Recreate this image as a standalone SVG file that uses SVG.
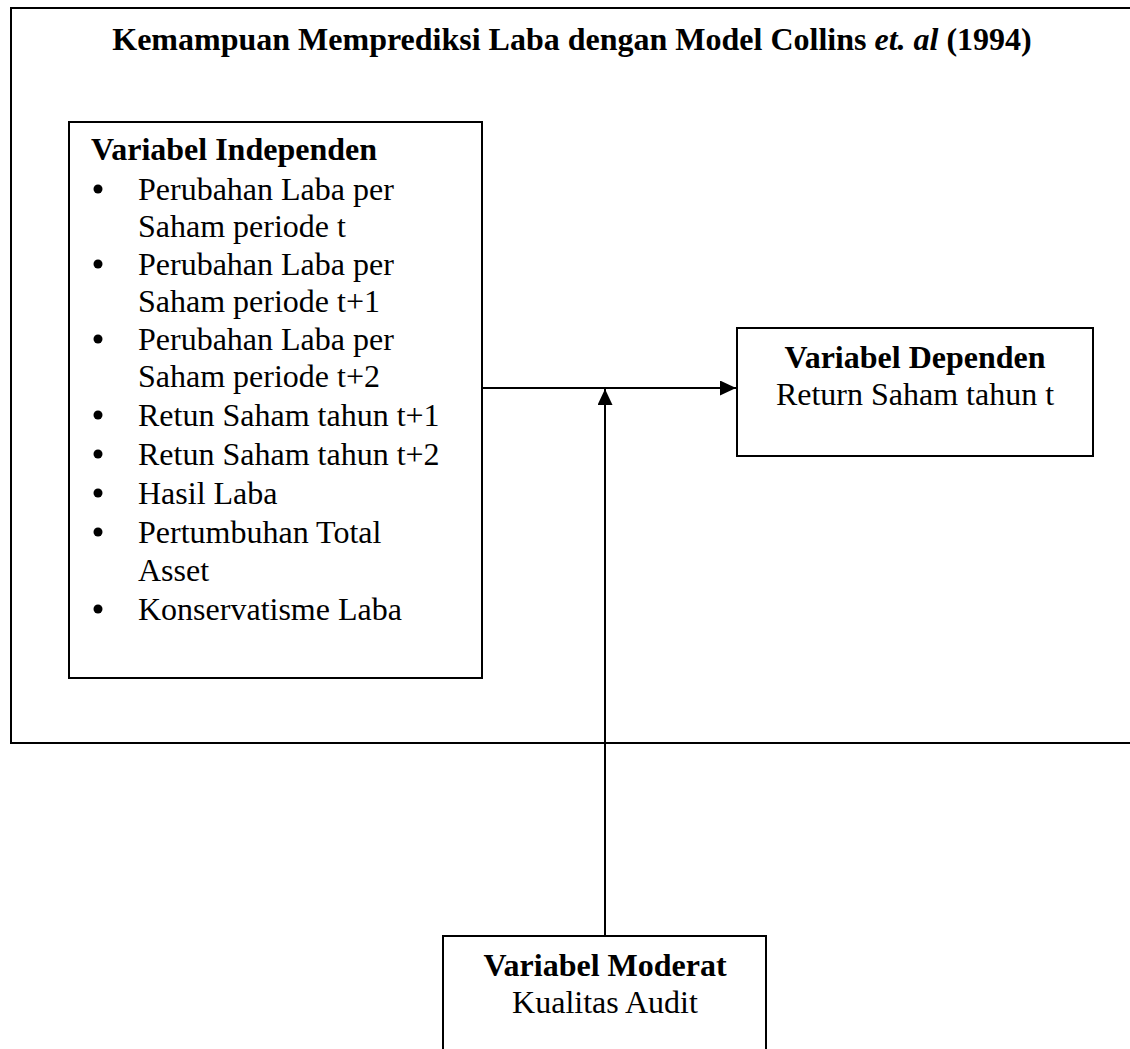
<svg xmlns="http://www.w3.org/2000/svg" width="1130" height="1049" viewBox="0 0 1130 1049">
<style>
.box{fill:none;stroke:#000;stroke-width:2}
.ln{fill:none;stroke:#000;stroke-width:2}
text{font-family:"Liberation Serif","Times New Roman",serif;font-size:32px;fill:#000}
.b{font-weight:bold}
.c{text-anchor:middle}
</style>
<defs>
<marker id="ah" markerWidth="16" markerHeight="15" refX="16" refY="7.5" orient="auto" markerUnits="userSpaceOnUse" viewBox="0 0 16 15">
<path d="M0,0 L16,7.5 L0,15 Z" fill="#000"/>
</marker>
</defs>
<rect width="1130" height="1049" fill="#fff"/>
<g id="outer">
<rect class="box" x="11" y="8" width="1125" height="735"/>
<text class="b c" x="572" y="50">Kemampuan Memprediksi Laba dengan Model Collins <tspan font-style="italic">et. al</tspan> (1994)</text>
</g>
<g id="independen">
<rect class="box" x="69" y="122" width="413" height="556"/>
<text class="b" x="91" y="160">Variabel Independen</text>
<g>
<circle cx="98" cy="189" r="4.5"/>
<circle cx="98" cy="264" r="4.5"/>
<circle cx="98" cy="339" r="4.5"/>
<circle cx="98" cy="415" r="4.5"/>
<circle cx="98" cy="454" r="4.5"/>
<circle cx="98" cy="493" r="4.5"/>
<circle cx="98" cy="532" r="4.5"/>
<circle cx="98" cy="609" r="4.5"/>
</g>
<text x="138" y="200">Perubahan Laba per</text>
<text x="138" y="237">Saham periode t</text>
<text x="138" y="275">Perubahan Laba per</text>
<text x="138" y="312">Saham periode t+1</text>
<text x="138" y="350">Perubahan Laba per</text>
<text x="138" y="387">Saham periode t+2</text>
<text x="138" y="426">Retun Saham tahun t+1</text>
<text x="138" y="465">Retun Saham tahun t+2</text>
<text x="138" y="504">Hasil Laba</text>
<text x="138" y="543">Pertumbuhan Total</text>
<text x="138" y="581">Asset</text>
<text x="138" y="620">Konservatisme Laba</text>
</g>
<g id="dependen">
<rect class="box" x="737" y="328" width="356" height="128"/>
<text class="b c" x="915" y="368">Variabel Dependen</text>
<text class="c" x="915" y="405">Return Saham tahun t</text>
</g>
<g id="moderat">
<rect class="box" x="443" y="936" width="323" height="130"/>
<text class="b c" x="605" y="976">Variabel Moderat</text>
<text class="c" x="605" y="1013">Kualitas Audit</text>
</g>
<g id="connectors">
<line class="ln" x1="482" y1="388" x2="736" y2="388" marker-end="url(#ah)"/>
<line class="ln" x1="605" y1="936" x2="605" y2="389" marker-end="url(#ah)"/>
</g>
</svg>
